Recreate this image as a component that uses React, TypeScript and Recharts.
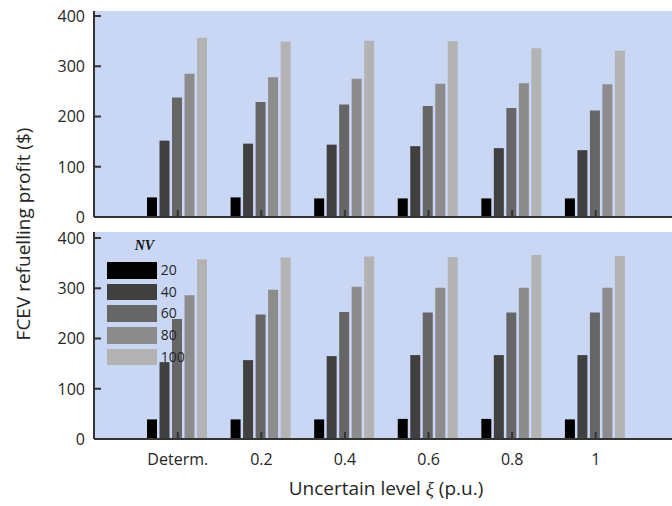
import React from 'react'
import { BarChart, Bar, XAxis, YAxis, CartesianGrid, Legend } from 'recharts'

// categories (uncertainty level) and NV fleet sizes
const categories = ['Determ.', '0.2', '0.4', '0.6', '0.8', '1']
const nvLevels = ['20', '40', '60', '80', '100']
const barColors = ['#000000', '#404040', '#666666', '#8c8c8c', '#b3b3b3']
const yTicks = [0, 100, 200, 300, 400]

// upper panel
const top20 = [39, 39, 37, 37, 37, 37]
const top40 = [152, 146, 144, 141, 137, 133]
const top60 = [238, 229, 224, 221, 217, 212]
const top80 = [285, 278, 275, 265, 266, 264]
const top100 = [357, 349, 351, 350, 336, 331]

// lower panel
const bot20 = [39, 39, 39, 40, 40, 39]
const bot40 = [153, 157, 165, 167, 167, 167]
const bot60 = [239, 248, 253, 252, 252, 252]
const bot80 = [286, 297, 303, 301, 301, 301]
const bot100 = [358, 361, 363, 362, 366, 364]

const FONT = '"Open Sans", sans-serif'
const BG = '#c9d6f4'
const AXIS = '#333333'
const TEXT = '#262626'

const buildRows = (series: number[][]) =>
  categories.map((cat, i) => {
    const row: Record<string, string | number> = { cat }
    nvLevels.forEach((nv, k) => {
      row['nv' + nv] = series[k][i]
    })
    return row
  })

const topData = buildRows([top20, top40, top60, top80, top100])
const botData = buildRows([bot20, bot40, bot60, bot80, bot100])

const YTick = (props: any) => {
  const { x, y, payload } = props
  return (
    <g>
      <line x1={x + 9} x2={x + 16} y1={y} y2={y} stroke={AXIS} strokeWidth={2} />
      <text x={x} y={y} dy="0.36em" textAnchor="end" fontSize={16} fontFamily={FONT} fill={TEXT}>
        {payload.value}
      </text>
    </g>
  )
}

const XTick = (props: any) => {
  const { x, y, payload, showLabel } = props
  return (
    <g>
      <line x1={x} x2={x} y1={y - 7} y2={y} stroke={AXIS} strokeWidth={2} />
      {showLabel && (
        <text x={x} y={y + 26} textAnchor="middle" fontSize={16} fontFamily={FONT} fill={TEXT}>
          {payload.value}
        </text>
      )}
    </g>
  )
}

const NvLegend = () => (
  <div style={{ position: 'relative', width: 90, height: 150, fontFamily: FONT, color: TEXT }}>
    <div
      style={{
        position: 'absolute',
        left: 28,
        top: 14,
        lineHeight: '16px',
        fontFamily: '"Liberation Serif", serif',
        fontStyle: 'italic',
        fontWeight: 'bold',
        fontSize: 14,
        color: '#111',
      }}
    >
      NV
    </div>
    {nvLevels.map((nv, i) => (
      <div key={nv} style={{ position: 'absolute', left: 0, top: 38 + i * 21.7, height: 16.5 }}>
        <span
          style={{ position: 'absolute', left: 0, top: 0, width: 50, height: 16.5, background: barColors[i] }}
        />
        <span
          style={{ position: 'absolute', left: 54, top: -1, fontSize: 14, lineHeight: '17px', whiteSpace: 'nowrap' }}
        >
          {nv}
        </span>
      </div>
    ))}
  </div>
)

const renderBars = () =>
  nvLevels.map((nv, k) => (
    <Bar key={nv} dataKey={'nv' + nv} name={nv} fill={barColors[k]} isAnimationActive={false} />
  ))

export default function App() {
  return (
    <div style={{ position: 'absolute', left: 0, top: 0, width: 672, height: 506, background: '#fff', overflow: 'hidden' }}>
      <div style={{ position: 'absolute', left: 0, top: 0 }}>
        <BarChart
          width={672}
          height={234}
          data={topData}
          margin={{ top: 11, right: 0, left: 0, bottom: 0 }}
          barCategoryGap={11}
          barGap={2.5}
        >
          <CartesianGrid fill={BG} stroke="none" horizontal={false} vertical={false} />
          {renderBars()}
          <XAxis
            dataKey="cat"
            height={17}
            interval={0}
            padding={{ left: 42, right: 34.5 }}
            tickSize={0}
            tickMargin={0}
            tickLine={false}
            tick={<XTick showLabel={false} />}
            axisLine={{ stroke: AXIS, strokeWidth: 2 }}
          />
          <YAxis
            width={94}
            domain={[0, 410]}
            ticks={yTicks}
            interval={0}
            tickSize={0}
            tickMargin={9}
            tickLine={false}
            tick={<YTick />}
            axisLine={{ stroke: AXIS, strokeWidth: 2 }}
          />
        </BarChart>
      </div>
      <div style={{ position: 'absolute', left: 0, top: 224 }}>
        <BarChart
          width={672}
          height={282}
          data={botData}
          margin={{ top: 8, right: 0, left: 0, bottom: 0 }}
          barCategoryGap={11}
          barGap={2.5}
        >
          <CartesianGrid fill={BG} stroke="none" horizontal={false} vertical={false} />
          {renderBars()}
          <XAxis
            dataKey="cat"
            height={67}
            interval={0}
            padding={{ left: 42, right: 34.5 }}
            tickSize={0}
            tickMargin={0}
            tickLine={false}
            tick={<XTick showLabel={true} />}
            axisLine={{ stroke: AXIS, strokeWidth: 2 }}
          />
          <YAxis
            width={94}
            domain={[0, 412]}
            ticks={yTicks}
            interval={0}
            tickSize={0}
            tickMargin={9}
            tickLine={false}
            tick={<YTick />}
            axisLine={{ stroke: AXIS, strokeWidth: 2 }}
          />
          <Legend
            layout="vertical"
            align="center"
            verticalAlign="middle"
            content={<NvLegend />}
            wrapperStyle={{ left: 106.7, top: 0, width: 90, height: 150 }}
          />
        </BarChart>
      </div>
      <svg width={672} height={506} style={{ position: 'absolute', left: 0, top: 0, pointerEvents: 'none' }}>
        <text
          x={29.5}
          y={234}
          transform="rotate(-90 29.5 234)"
          textAnchor="middle"
          fontSize={19}
          fontFamily={FONT}
          fill={TEXT}
        >
          FCEV refuelling profit ($)
        </text>
        <text x={386} y={495} textAnchor="middle" fontSize={19} fontFamily={FONT} fill={TEXT}>
          Uncertain level{' '}
          <tspan fontFamily='"Liberation Serif", serif' fontStyle="italic">
            ξ
          </tspan>{' '}
          (p.u.)
        </text>
      </svg>
    </div>
  )
}
